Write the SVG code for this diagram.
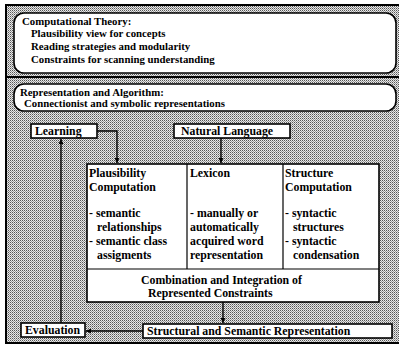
<svg xmlns="http://www.w3.org/2000/svg" width="399" height="350" viewBox="0 0 399 350" font-family="'Liberation Serif', 'Times New Roman', serif">
  <style>
    text { font-family: "Liberation Serif", "Times New Roman", serif; font-size: 10.8px; font-weight: bold; fill: #000; }
    .lg { font-size: 11.8px; }
    .box { fill: #fff; stroke: #000; stroke-width: 1.6; }
    .frame { fill: url(#stipple); stroke: #000; stroke-width: 2; }
    .edge { fill: none; stroke: #000; stroke-width: 1.4; }
    .rule { stroke: #000; stroke-width: 1.2; fill: none; }
  </style>
  <defs>
    <pattern id="stipple" width="2" height="2" patternUnits="userSpaceOnUse">
      <rect width="2" height="2" fill="#e8e8e8"/>
      <rect width="1" height="1" fill="#555"/>
      <rect x="1" y="1" width="1" height="1" fill="#999"/>
    </pattern>
    <marker id="arrow" viewBox="0 0 8 8" refX="8" refY="4" markerWidth="5" markerHeight="5" orient="auto" markerUnits="userSpaceOnUse">
      <path d="M0,0 L8,4 L0,8 z" fill="#000"/>
    </marker>
  </defs>

  <!-- outer frame with halftone background -->
  <rect class="frame" x="6" y="5" width="398" height="338"/>
  <line x1="6" y1="77" x2="399" y2="77" stroke="#000" stroke-width="2"/>

  <g id="computational-theory">
    <rect class="box" x="14" y="13" width="382" height="60" rx="10" stroke-width="2"/>
    <text x="22" y="25">Computational Theory:</text>
    <text x="31" y="37">Plausibility view for concepts</text>
    <text x="31" y="50">Reading strategies and modularity</text>
    <text x="31" y="63">Constraints for scanning understanding</text>
  </g>

  <g id="representation-algorithm">
    <rect class="box" x="14" y="84" width="382" height="27" rx="10" stroke-width="2"/>
    <text x="20" y="96">Representation and Algorithm:</text>
    <text x="24" y="107">Connectionist and symbolic representations</text>
  </g>

  <g id="learning">
    <rect class="box" x="31" y="124" width="66" height="14"/>
    <text class="lg" x="35" y="135">Learning</text>
  </g>

  <g id="natural-language">
    <rect class="box" x="174" y="124" width="116" height="14"/>
    <text class="lg" x="181" y="135">Natural Language</text>
  </g>

  <g id="processing">
    <rect class="box" x="87" y="164" width="292" height="138"/>
    <line class="rule" x1="187" y1="164" x2="187" y2="269"/>
    <line class="rule" x1="283" y1="164" x2="283" y2="269"/>
    <line class="rule" x1="87" y1="269" x2="379" y2="269"/>
  </g>

  <g id="plausibility-computation" class="lg">
    <text class="lg" x="89" y="177">Plausibility</text>
    <text class="lg" x="89" y="191">Computation</text>
    <text class="lg" x="89" y="217">- semantic</text>
    <text class="lg" x="97" y="231">relationships</text>
    <text class="lg" x="89" y="245">- semantic class</text>
    <text class="lg" x="97" y="259">assigments</text>
  </g>

  <g id="lexicon">
    <text class="lg" x="190" y="177">Lexicon</text>
    <text class="lg" x="190" y="217">- manually or</text>
    <text class="lg" x="190" y="231">automatically</text>
    <text class="lg" x="190" y="245">acquired word</text>
    <text class="lg" x="190" y="259">representation</text>
  </g>

  <g id="structure-computation">
    <text class="lg" x="285" y="177">Structure</text>
    <text class="lg" x="285" y="191">Computation</text>
    <text class="lg" x="285" y="217">- syntactic</text>
    <text class="lg" x="293" y="231">structures</text>
    <text class="lg" x="285" y="245">- syntactic</text>
    <text class="lg" x="293" y="259">condensation</text>
  </g>

  <g id="combination">
    <text class="lg" x="141" y="284">Combination and Integration of</text>
    <text class="lg" x="148" y="297">Represented Constraints</text>
  </g>

  <g id="evaluation">
    <rect class="box" x="21" y="323" width="64" height="14"/>
    <text class="lg" x="25" y="334">Evaluation</text>
  </g>

  <g id="structural-semantic">
    <rect class="box" x="143" y="324" width="249" height="14"/>
    <text class="lg" x="147" y="335">Structural and Semantic Representation</text>
  </g>

  <g id="connectors">
    <path class="edge" d="M97,131 H117 V163" marker-end="url(#arrow)"/>
    <path class="edge" d="M221,138 V163" marker-end="url(#arrow)"/>
    <path class="edge" d="M223,302 V323" marker-end="url(#arrow)"/>
    <path class="edge" d="M143,331 H86" marker-end="url(#arrow)"/>
    <path class="edge" d="M61,323 V139" marker-end="url(#arrow)"/>
  </g>
</svg>
